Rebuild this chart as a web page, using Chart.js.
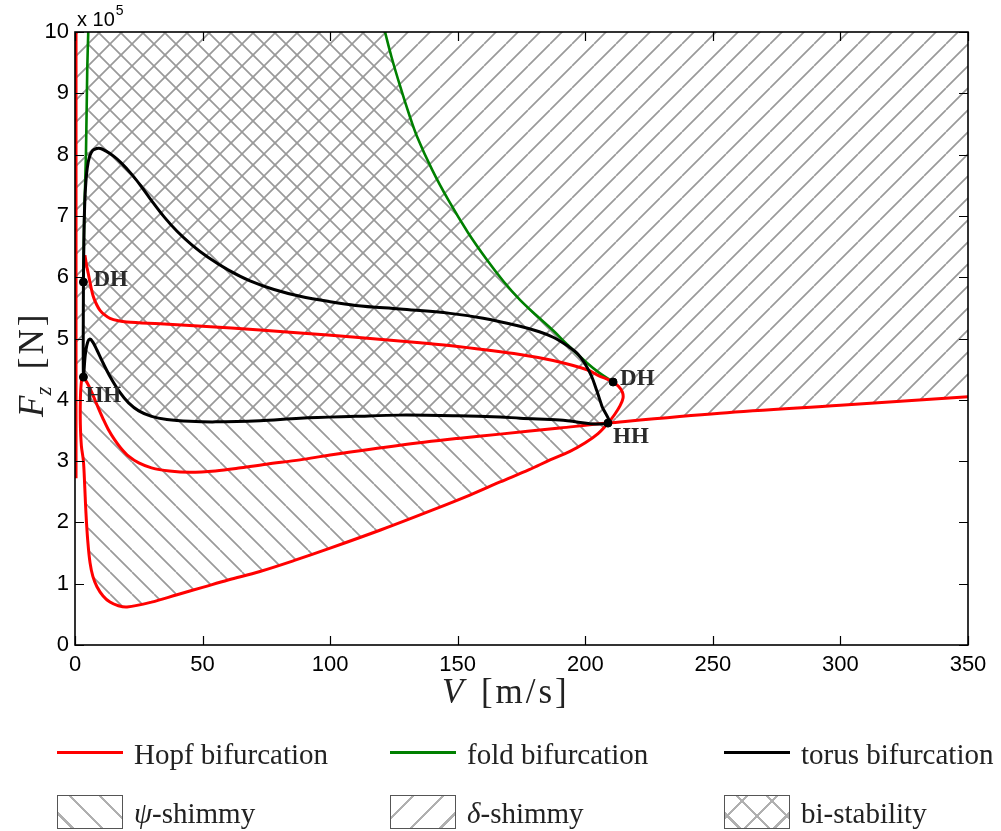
<!DOCTYPE html>
<html><head><meta charset="utf-8">
<script src="https://cdn.jsdelivr.net/npm/chart.js@4.4.1/dist/chart.umd.min.js"></script>
<style>
html,body{margin:0;padding:0;background:#fff;}
#wrap{position:relative;width:1001px;height:831px;overflow:hidden;background:#fff;}
#c{position:absolute;left:0;top:0;}
.t{position:absolute;white-space:nowrap;font-family:'Liberation Serif','Times New Roman',serif;color:#222;line-height:1;}
.lg{font-size:29px;}
.ln{position:absolute;height:3px;width:66px;}
.bx{position:absolute;width:64px;height:32px;border:1px solid #555;box-sizing:content-box;}
</style></head>
<body>
<div id="wrap">
<canvas id="c" width="1001" height="831"></canvas>
<div class="t" style="left:77px;top:9px;font-family:'Liberation Sans',Arial,sans-serif;font-size:20px;color:#000;">x 10<span style="font-size:14px;position:relative;top:-11px;margin-left:1px;">5</span></div>
<div class="t" style="left:442px;top:674px;font-size:35px;"><i>V</i>&nbsp;&nbsp;<span style="letter-spacing:3px;">[m/s]</span></div>
<div class="t" style="left:32px;top:417px;font-size:35px;transform:rotate(-90deg);transform-origin:0 0;"><div style="position:relative;top:-18px;"><i>F<sub style="font-size:23px;">z</sub></i>&nbsp;&nbsp;<span style="letter-spacing:3px;">[N]</span></div></div>

<div class="ln" style="left:57px;top:751px;background:#ff0000;"></div>
<div class="t lg" style="left:134px;top:740px;">Hopf bifurcation</div>
<div class="ln" style="left:390px;top:751px;background:#008000;"></div>
<div class="t lg" style="left:467px;top:740px;">fold bifurcation</div>
<div class="ln" style="left:724px;top:751px;background:#000;"></div>
<div class="t lg" style="left:801px;top:740px;">torus bifurcation</div>

<div class="bx" style="left:57px;top:795px;background:repeating-linear-gradient(45deg,#fff 0px,#fff 9px,#b0b0b0 9px,#b0b0b0 11.5px,#fff 11.5px,#fff 21px);"></div>
<div class="t lg" style="left:134px;top:799px;"><i>ψ</i>-shimmy</div>
<div class="bx" style="left:390px;top:795px;background:repeating-linear-gradient(-45deg,#fff 0px,#fff 9px,#b0b0b0 9px,#b0b0b0 11.5px,#fff 11.5px,#fff 21px);"></div>
<div class="t lg" style="left:467px;top:799px;"><i>δ</i>-shimmy</div>
<div class="bx" style="left:724px;top:795px;background:repeating-linear-gradient(45deg,transparent 0px,transparent 9px,#b0b0b0 9px,#b0b0b0 11.5px,transparent 11.5px,transparent 21px),repeating-linear-gradient(-45deg,#fff 0px,#fff 9px,#b0b0b0 9px,#b0b0b0 11.5px,#fff 11.5px,#fff 21px);"></div>
<div class="t lg" style="left:801px;top:799px;">bi-stability</div>
</div>
<script>
// ---------- data (V in m/s, Fz in 1e5 N) ----------
const xTicks = [0, 50, 100, 150, 200, 250, 300, 350];
const yTicks = [0, 1, 2, 3, 4, 5, 6, 7, 8, 9, 10];

// Hopf bifurcation curves
const hopfWallV = [0.4, 0.4];
const hopfWallF = [2.72, 10];
const hopfMiddleV = [350, 300, 252.8, 208.9, 190, 166.6, 150, 127.4, 100, 88.2, 75, 65, 55, 45, 37, 30, 25, 21, 18, 15.5, 13, 11, 9, 7.2, 5.5, 4.0, 3.0];
const hopfMiddleF = [4.05, 3.91, 3.78, 3.62, 3.54, 3.44, 3.37, 3.26, 3.10, 3.02, 2.95, 2.89, 2.84, 2.82, 2.84, 2.89, 2.97, 3.08, 3.21, 3.35, 3.52, 3.69, 3.88, 4.06, 4.22, 4.33, 4.38];
const hopfLegV = [3.0, 2.4, 2.1, 2.1, 2.5, 3.3, 3.8, 4.3, 5.0, 5.9, 7.0, 8.6, 11, 13.7, 17, 20.4, 30, 40, 50, 60, 72.5, 86, 100, 120, 140, 155, 166.6, 178, 186.2, 194, 200, 205, 208.9];
const hopfLegF = [4.38, 4.25, 4.0, 3.6, 3.25, 3.0, 2.6, 2.15, 1.7, 1.34, 1.12, 0.95, 0.80, 0.70, 0.64, 0.62, 0.70, 0.82, 0.94, 1.06, 1.20, 1.38, 1.58, 1.88, 2.20, 2.45, 2.66, 2.86, 3.02, 3.16, 3.30, 3.45, 3.62];
const hopfNoseV = [208.9, 211.5, 213.6, 214.8, 214.5, 213, 210.9];
const hopfNoseF = [3.62, 3.76, 3.90, 4.03, 4.13, 4.22, 4.29];
const hopfUpperV = [210.9, 205, 200.7, 187.4, 174.4, 150, 135.2, 110, 88.2, 72.5, 50, 33.3, 20.3, 17, 13.7, 11.5, 9.8, 8.5, 7.2, 6.2, 5.2, 4.5, 3.9];
const hopfUpperF = [4.29, 4.40, 4.49, 4.64, 4.74, 4.87, 4.93, 5.02, 5.09, 5.14, 5.20, 5.24, 5.27, 5.29, 5.33, 5.39, 5.46, 5.55, 5.68, 5.85, 6.06, 6.20, 6.36];

// fold bifurcation curves
const foldLeftV = [3.3, 3.45, 3.65, 4.3, 4.8, 5.2];
const foldLeftF = [5.92, 6.5, 7.05, 8.02, 9.39, 10];
const foldRightV = [121.5, 124, 127.4, 131, 134, 140, 146.3, 154, 161.5, 168, 174.4, 181, 187.4, 193, 200.7, 205.5, 210.9];
const foldRightF = [10, 9.6, 9.12, 8.65, 8.3, 7.75, 7.26, 6.73, 6.28, 5.93, 5.63, 5.37, 5.13, 4.9, 4.6, 4.44, 4.29];

// torus bifurcation curves
const torusUpperV = [3.3, 3.45, 3.7, 4.1, 4.8, 5.8, 7, 8.5, 10, 12, 15, 18, 22, 26, 30, 35, 40, 46, 52, 60, 68.6, 78, 88.2, 100, 110, 127.4, 147, 160, 174.4, 182, 187.4, 193, 196.8, 200, 202.5, 204.5, 206.5, 208.9];
const torusUpperF = [5.92, 6.5, 7.05, 7.45, 7.78, 7.98, 8.07, 8.10, 8.10, 8.06, 7.98, 7.87, 7.69, 7.48, 7.25, 6.98, 6.75, 6.52, 6.33, 6.12, 5.94, 5.80, 5.69, 5.60, 5.54, 5.48, 5.41, 5.33, 5.20, 5.11, 5.02, 4.88, 4.76, 4.58, 4.38, 4.15, 3.90, 3.62];
const torusLowerV = [208.9, 190, 174.4, 166.6, 150, 127.4, 110, 88.2, 72.5, 55, 45, 36, 30, 25, 21, 17.6, 14, 11, 8.5, 7, 5.9, 4.9, 4.0, 3.3];
const torusLowerF = [3.62, 3.67, 3.70, 3.72, 3.74, 3.75, 3.73, 3.70, 3.66, 3.64, 3.65, 3.68, 3.73, 3.82, 3.95, 4.12, 4.36, 4.60, 4.82, 4.94, 4.99, 4.93, 4.72, 4.37];
const torusLinkV = [3.3, 3.3];
const torusLinkF = [4.37, 5.92];

// special points (double Hopf DH, Hopf-Hopf HH)
const specialNames = ['DH', 'HH', 'DH', 'HH'];
const specialV = [3.3, 3.3, 210.9, 208.9];
const specialF = [5.92, 4.37, 4.29, 3.62];
const specialOffset = [[10, -2], [2, 19], [7, -3], [5, 14]];

// ---------- helpers ----------
const pts = (V, F) => V.map((v, i) => ({x: v, y: F[i]}));
const rev = a => a.slice().reverse();
const xMax = xTicks[xTicks.length - 1], yMax = yTicks[yTicks.length - 1];

const hopfPath = [...pts(hopfMiddleV, hopfMiddleF), ...pts(hopfLegV, hopfLegF).slice(1),
  ...pts(hopfNoseV, hopfNoseF).slice(1), ...pts(hopfUpperV, hopfUpperF).slice(1)];
const torusPath = [...pts(torusUpperV, torusUpperF), ...pts(torusLowerV, torusLowerF).slice(1),
  ...pts(torusLinkV, torusLinkF).slice(1)];

// psi-shimmy region
const psiPoly = [
  ...rev(pts(foldLeftV, foldLeftF)),
  ...rev(pts(torusLinkV, torusLinkF)),
  ...pts(hopfLegV, hopfLegF),
  ...rev(pts(torusUpperV, torusUpperF).filter(p => p.x >= 193)),
  ...rev(pts(foldRightV, foldRightF).filter(p => p.x < 193))
];
// delta-shimmy region
const deltaPoly = [
  {x: hopfWallV[0], y: yMax}, {x: xMax, y: yMax},
  ...pts(hopfMiddleV, hopfMiddleF).filter(p => p.x >= 208.9),
  ...pts(torusLowerV, torusLowerF).slice(1),
  {x: hopfWallV[0], y: specialF[1]}
];

const canvas = document.getElementById('c');
const ctx0 = canvas.getContext('2d');
function hatch(forward) {
  const s = 22, c = document.createElement('canvas');
  c.width = c.height = s;
  const g = c.getContext('2d');
  g.strokeStyle = '#9a9a9a'; g.lineWidth = 1.7; g.beginPath();
  for (const o of [-s, 0, s]) {
    if (forward) { g.moveTo(o, s); g.lineTo(o + s, 0); }
    else { g.moveTo(o, 0); g.lineTo(o + s, s); }
  }
  g.stroke();
  return ctx0.createPattern(c, 'repeat');
}

const frame = {
  id: 'frame',
  afterDatasetsDraw(chart) {
    const {ctx, chartArea: a, scales: {x, y}} = chart;
    ctx.save();
    ctx.strokeStyle = '#000'; ctx.lineWidth = 1.2; ctx.beginPath();
    xTicks.forEach(v => { const p = Math.round(x.getPixelForValue(v)) + 0.5;
      ctx.moveTo(p, a.bottom); ctx.lineTo(p, a.bottom - 9); ctx.moveTo(p, a.top); ctx.lineTo(p, a.top + 9); });
    yTicks.forEach(v => { const p = Math.round(y.getPixelForValue(v)) + 0.5;
      ctx.moveTo(a.left, p); ctx.lineTo(a.left + 9, p); ctx.moveTo(a.right, p); ctx.lineTo(a.right - 9, p); });
    ctx.stroke();
    ctx.lineWidth = 1.6;
    ctx.strokeRect(a.left, a.top, a.right - a.left, a.bottom - a.top);
    ctx.font = 'bold 23px "Liberation Serif", serif';
    ctx.fillStyle = '#2a2a2a'; ctx.textBaseline = 'middle'; ctx.textAlign = 'left';
    specialNames.forEach((n, i) => {
      ctx.fillText(n, x.getPixelForValue(specialV[i]) + specialOffset[i][0], y.getPixelForValue(specialF[i]) + specialOffset[i][1]);
    });
    ctx.restore();
  }
};

const lineDs = (data, color, w, t) => ({data, showLine: true, borderColor: color, borderWidth: w,
  pointRadius: 0, fill: false, tension: t, backgroundColor: color});

new Chart(canvas, {
  type: 'scatter',
  data: {datasets: [
    {data: pts(specialV, specialF), pointRadius: 4, pointBackgroundColor: '#000', pointBorderColor: '#000', showLine: false},
    lineDs(torusPath, '#000', 3, 0.35),
    lineDs(hopfPath, '#ff0000', 3, 0.35),
    lineDs(pts(hopfWallV, hopfWallF), '#ff0000', 3, 0),
    lineDs(pts(foldLeftV, foldLeftF), '#008000', 2.6, 0.35),
    lineDs(pts(foldRightV, foldRightF), '#008000', 2.6, 0.35),
    {data: psiPoly, showLine: true, borderWidth: 0, borderColor: 'rgba(0,0,0,0)', pointRadius: 0, tension: 0, fill: 'shape', backgroundColor: hatch(false)},
    {data: deltaPoly, showLine: true, borderWidth: 0, borderColor: 'rgba(0,0,0,0)', pointRadius: 0, tension: 0, fill: 'shape', backgroundColor: hatch(true)}
  ]},
  options: {
    responsive: false, devicePixelRatio: 1, animation: false,
    layout: {padding: {left: 0, top: 32, right: 33, bottom: 146}},
    plugins: {legend: {display: false}, tooltip: {enabled: false}},
    scales: {
      x: {type: 'linear', min: 0, max: xMax,
        afterBuildTicks: s => { s.ticks = xTicks.map(v => ({value: v})); },
        afterFit: s => { s.height = 40; },
        grid: {display: false, drawTicks: false}, border: {display: false},
        ticks: {padding: 7, color: '#000', font: {family: "'Liberation Sans', Arial, sans-serif", size: 22}, maxRotation: 0}},
      y: {type: 'linear', min: 0, max: yMax,
        afterBuildTicks: s => { s.ticks = yTicks.map(v => ({value: v})); },
        afterFit: s => { s.width = 75; },
        grid: {display: false, drawTicks: false}, border: {display: false},
        ticks: {padding: 6, color: '#000', font: {family: "'Liberation Sans', Arial, sans-serif", size: 22}}}
    }
  },
  plugins: [frame]
});
</script>
</body></html>
